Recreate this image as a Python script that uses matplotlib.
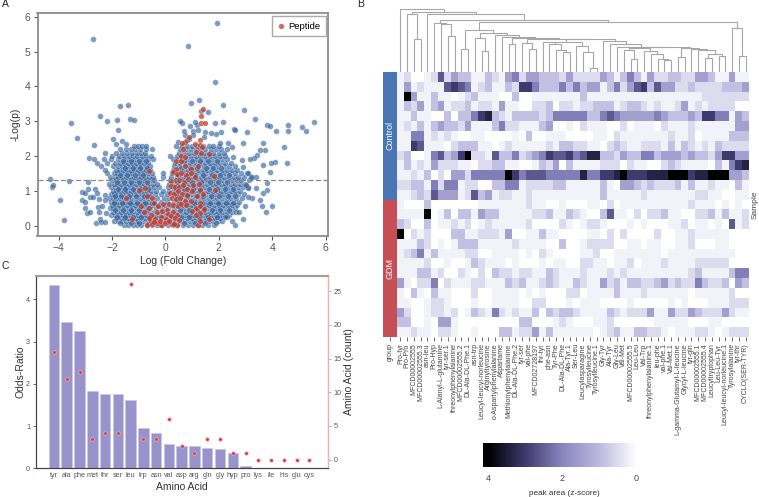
import matplotlib
matplotlib.use('Agg')
import matplotlib.pyplot as plt
from matplotlib.colors import LinearSegmentedColormap
from matplotlib.patches import Rectangle
import numpy as np

plt.rcParams['font.family'] = ['Liberation Sans', 'DejaVu Sans']

W, H = 759, 497

# panel A: points
# (the dense part is read band by band: one y, many x)
blue_y = [0.03, 0.12, 0.21, 0.31, 0.4, 0.5, 0.6, 0.69, 0.79, 0.9, 1.0, 1.1, 1.2, 1.3, 1.4, 1.5, 1.6, 1.7, 1.8, 1.9, 2.0, 2.1, 2.2, 2.3]
blue_x = [
    [-1.55, -1.4, -1.22, -1.05, -0.93, -0.7, -0.52, -0.31, -0.12, 0.08, 0.27, 0.45, 0.66, 0.84, 1.03, 1.21, 1.38, 1.6, 1.82],
    [-1.92, -1.78, -1.62, -1.47, -1.33, -1.15, -1.02, -0.85, -0.66, -0.44, -0.25, -0.03, 0.15, 0.36, 0.55, 0.73, 0.93, 1.08, 1.27, 1.44, 1.63, 1.79, 1.98, 2.12],
    [-1.85, -1.68, -1.55, -1.41, -1.24, -1.1, -0.94, -0.77, -0.58, -0.37, -0.18, 0.02, 0.25, 0.48, 0.63, 0.81, 0.98, 1.16, 1.31, 1.52, 1.7, 1.86, 2.03],
    [-2.02, -1.9, -1.75, -1.6, -1.46, -1.31, -1.17, -1.02, -0.88, -0.71, -0.54, -0.3, -0.08, 0.12, 0.33, 0.52, 0.72, 0.88, 1.05, 1.22, 1.4, 1.57, 1.72, 1.9, 2.05, 2.22, 2.38],
    [-1.95, -1.83, -1.66, -1.51, -1.38, -1.24, -1.08, -0.93, -0.79, -0.63, -0.44, -0.2, 0.01, 0.24, 0.44, 0.61, 0.79, 0.97, 1.13, 1.31, 1.48, 1.66, 1.81, 1.97, 2.13, 2.31, 2.49],
    [-2.08, -1.96, -1.8, -1.67, -1.52, -1.35, -1.21, -1.06, -0.9, -0.73, -0.58, -0.36, -0.13, 0.08, 0.33, 0.53, 0.7, 0.87, 1.04, 1.23, 1.39, 1.56, 1.74, 1.9, 2.06, 2.23, 2.42, 2.62],
    [-2.0, -1.87, -1.73, -1.58, -1.44, -1.29, -1.13, -0.98, -0.83, -0.68, -0.49, -0.27, -0.03, 0.2, 0.42, 0.62, 0.8, 0.95, 1.15, 1.32, 1.5, 1.64, 1.82, 2.0, 2.15, 2.33, 2.5, 2.7],
    [-2.05, -1.92, -1.78, -1.64, -1.5, -1.36, -1.2, -1.05, -0.91, -0.75, -0.6, -0.41, -0.18, 0.05, 0.31, 0.5, 0.68, 0.86, 1.04, 1.2, 1.38, 1.56, 1.71, 1.88, 2.06, 2.22, 2.4, 2.58, 2.77],
    [-2.12, -1.97, -1.84, -1.69, -1.55, -1.41, -1.27, -1.11, -0.96, -0.82, -0.66, -0.5, -0.3, -0.07, 0.15, 0.4, 0.58, 0.77, 0.93, 1.1, 1.29, 1.46, 1.62, 1.8, 1.95, 2.13, 2.31, 2.47, 2.66, 2.86],
    [-2.04, -1.91, -1.76, -1.62, -1.47, -1.33, -1.18, -1.03, -0.88, -0.73, -0.57, -0.39, -0.16, 0.06, 0.28, 0.48, 0.66, 0.83, 1.01, 1.19, 1.35, 1.53, 1.7, 1.87, 2.04, 2.2, 2.38, 2.56, 2.73, 2.94],
    [-1.98, -1.85, -1.71, -1.56, -1.42, -1.28, -1.14, -0.98, -0.84, -0.69, -0.53, -0.36, -0.1, 0.13, 0.34, 0.55, 0.73, 0.91, 1.08, 1.26, 1.42, 1.6, 1.77, 1.93, 2.1, 2.28, 2.46, 2.62, 2.8],
    [-2.03, -1.89, -1.75, -1.6, -1.46, -1.32, -1.16, -1.02, -0.87, -0.71, -0.56, -0.42, -0.24, 0.1, 0.28, 0.46, 0.65, 0.82, 0.99, 1.16, 1.33, 1.5, 1.68, 1.84, 2.02, 2.19, 2.36, 2.53, 2.71, 2.9, 3.08],
    [-2.1, -1.94, -1.8, -1.67, -1.52, -1.38, -1.24, -1.09, -0.94, -0.79, -0.64, -0.48, -0.31, 0.15, 0.34, 0.51, 0.7, 0.88, 1.05, 1.22, 1.38, 1.56, 1.73, 1.91, 2.07, 2.25, 2.44, 2.6, 2.78, 2.97],
    [-2.0, -1.86, -1.72, -1.58, -1.43, -1.29, -1.13, -0.98, -0.84, -0.7, -0.55, -0.42, 0.18, 0.37, 0.56, 0.75, 0.92, 1.09, 1.27, 1.44, 1.61, 1.78, 1.96, 2.13, 2.31, 2.5, 2.68, 2.85, 3.14],
    [-2.06, -1.9, -1.77, -1.63, -1.49, -1.34, -1.19, -1.04, -0.9, -0.75, -0.6, -0.47, -0.1, 0.22, 0.42, 0.61, 0.79, 0.96, 1.14, 1.32, 1.49, 1.67, 1.84, 2.02, 2.2, 2.37, 2.56, 2.72, 2.94, 3.25],
    [-2.18, -1.94, -1.81, -1.67, -1.52, -1.38, -1.24, -1.08, -0.94, -0.8, -0.64, -0.5, -0.08, 0.25, 0.44, 0.64, 0.83, 1.0, 1.19, 1.36, 1.53, 1.71, 1.89, 2.08, 2.25, 2.42, 2.6, 2.82, 3.05],
    [-2.25, -1.86, -1.72, -1.58, -1.44, -1.3, -1.16, -1.01, -0.87, -0.73, -0.59, 0.28, 0.47, 0.68, 0.86, 1.04, 1.22, 1.4, 1.57, 1.74, 1.92, 2.12, 2.3, 2.5, 2.7],
    [-2.4, -1.98, -1.78, -1.63, -1.48, -1.33, -1.18, -1.04, -0.9, -0.74, -0.56, 0.31, 0.52, 0.72, 0.9, 1.09, 1.26, 1.44, 1.62, 1.8, 1.98, 2.18, 2.38, 2.62],
    [-2.55, -2.2, -1.87, -1.7, -1.55, -1.4, -1.25, -1.1, -0.95, -0.8, -0.64, 0.35, 0.56, 0.74, 0.94, 1.13, 1.31, 1.49, 1.67, 1.85, 2.04, 2.24, 2.45],
    [-2.3, -2.05, -1.78, -1.6, -1.45, -1.3, -1.14, -0.99, -0.83, -0.66, -0.48, 0.3, 0.46, 0.64, 0.84, 1.02, 1.2, 1.38, 1.56, 1.73, 1.92, 2.12, 2.32],
    [-2.0, -1.72, -1.55, -1.38, -1.22, -1.05, -0.88, -0.71, -0.54, 0.18, 0.42, 0.6, 0.78, 0.96, 1.14, 1.31, 1.48, 1.68, 1.86, 2.05, 2.24],
    [-1.85, -1.62, -1.42, -1.25, -1.08, -0.92, -0.76, 0.5, 0.71, 0.9, 1.07, 1.25, 1.43, 1.62, 1.8, 2.0, 2.18],
    [-1.7, -1.48, -1.3, -1.12, -0.94, -0.74, -0.5, 0.56, 0.78, 0.97, 1.14, 1.3, 1.5, 1.7, 1.88, 2.1, 2.3],
    [-1.18, -1.02, -0.88, -0.72, 0.4, 0.62, 0.82, 1.0, 1.2, 1.42, 1.62, 1.8, 2.0],
]
# second pass between the bands, where the cloud is darkest
blue2_y = [0.07, 0.26, 0.45, 0.65, 0.85, 1.05, 1.25, 1.45, 1.65, 1.85]
blue2_x = [
    [-1.7, -1.28, -0.98, -0.62, 0.32, 0.71, 1.12, 1.5, 1.9],
    [-1.8, -1.5, -1.2, -0.9, -0.48, 0.6, 0.9, 1.25, 1.6, 1.95, 2.3],
    [-1.88, -1.57, -1.27, -0.99, -0.68, 0.53, 0.87, 1.18, 1.44, 1.75, 2.04, 2.4],
    [-1.93, -1.62, -1.33, -1.05, -0.77, -0.52, 0.5, 0.76, 1.07, 1.36, 1.68, 1.97, 2.27, 2.52],
    [-1.9, -1.65, -1.37, -1.09, -0.8, -0.6, 0.45, 0.8, 1.13, 1.41, 1.72, 2.01, 2.33, 2.6],
    [-1.79, -1.5, -1.22, -0.93, -0.65, 0.39, 0.7, 1.03, 1.31, 1.64, 1.95, 2.24, 2.55],
    [-1.83, -1.55, -1.27, -0.99, -0.7, 0.42, 0.75, 1.0, 1.35, 1.66, 1.98, 2.3],
    [-1.7, -1.42, -1.15, -0.85, 0.48, 0.83, 1.12, 1.42, 1.74, 2.05, 2.4],
    [-1.5, -1.22, -0.95, -0.68, 0.6, 0.92, 1.2, 1.52, 1.8, 2.1],
    [-1.6, -1.3, -1.0, -0.72, 0.68, 1.0, 1.28, 1.6, 1.92],
]
blue_extra_x = [-2.72, 0.85, 1.94, 1.85, 1.25, 0.96, 2.15, -1.71, -1.39, 2.95, -2.44, -2.18, -1.82, -1.31, -1.19, -3.52, -3.3, -1.76, 3.37, 3.8, 3.93, 4.16, 4.58, 4.61, 5.11, 5.27, 5.58, 4.45, 4.54, 4.11, 3.96, 3.9, 3.65, 3.64, 3.74, 3.55, 3.42, 3.33, 3.04, 2.89, 2.56, 2.62, 2.14, 2.1, 1.89, 1.69, 1.85, 1.6, -4.32, -4.26, -4.2, -3.6, -3.96, -3.79, -2.9, -2.85, -2.69, -2.66, -2.26, -1.97, -1.84, -1.64, -1.49, -3.11, -3.0, -2.89, -3.11, -3.0, -3.0, -2.94, -2.81, -2.84, -2.71, -2.64, -2.56, -2.49, -2.51, -2.5, -2.46, -2.59, -2.4, -2.25, -2.36, -2.21, -2.26, -2.26, 2.6, 2.51, 2.23, 2.92, 2.66, 2.76, 2.98, 3.24, 3.11, 3.54, 3.6, 3.77, 3.98, 3.79, 3.66, 3.41, 3.11, 3.02, 3.79, 3.41, 3.22, 3.11, 2.92, 3.18, 2.86, 2.55, 2.5, 2.35, 2.04, 0.72, 0.9, 1.05, 1.2, 0.62, 0.55, 0.92, 1.1, 1.32, 1.5, 0.8, 1.02, 1.22, 1.44, 0.48, 0.68]
blue_extra_y = [5.35, 5.16, 5.81, 4.14, 3.61, 3.52, 3.47, 3.44, 3.46, 3.32, 3.16, 3.01, 3.03, 3.06, 3.02, 2.95, 2.53, 2.74, 3.05, 2.9, 2.86, 2.72, 2.89, 2.73, 2.84, 2.73, 2.99, 2.27, 1.79, 1.82, 1.79, 1.55, 1.75, 2.37, 2.16, 2.18, 2.04, 1.93, 2.7, 2.37, 2.77, 2.74, 2.97, 2.7, 2.62, 2.65, 2.96, 3.25, 1.34, 1.12, 1.18, 1.28, 0.73, 0.16, 1.26, 1.93, 1.92, 2.31, 2.1, 2.48, 2.34, 2.44, 2.35, 0.96, 0.93, 1.04, 0.74, 0.69, 0.5, 0.35, 0.38, 0.83, 0.83, 1.04, 0.95, 0.76, 0.53, 0.4, 0.19, 0.07, 0.11, 0.11, 0.55, 0.35, 0.88, 0.74, 0.02, 0.14, 0.24, 0.19, 0.38, 0.38, 0.55, 0.78, 0.83, 0.74, 0.55, 0.4, 0.55, 1.02, 0.95, 1.07, 1.07, 1.17, 1.21, 1.41, 1.41, 1.5, 1.69, 1.9, 1.88, 1.98, 2.25, 2.38, 2.38, 2.6, 2.5, 2.72, 2.88, 2.95, 3.0, 2.85, 2.98, 3.3, 2.7, 2.45, 2.6, 2.75, 2.55, 2.4, 2.72]
red_x = [1.41, 1.34, 1.35, 1.5, 0.89, 1.31, 0.73, 0.64, 1.1, 1.29, 1.37, 0.66, 1.16, 1.32, 1.64, 0.57, 0.73, 0.41, 0.57, 1.21, -0.62, 0.41, 0.75, 0.97, 1.81, 1.85, -1.46, -1.24, 1.22,
         0.3, 0.45, 0.6, 0.78, 0.95, 1.1, 0.2, 0.38, 0.52, 0.68, 0.85, 1.03, 1.25, 0.22, 0.35, 0.5, 0.66, 0.82, 1.0, 1.3, 0.18, 0.33, 0.48, 0.62, 0.8, 1.2, 1.4, 0.25, 0.4, 0.55, 0.72, 0.95, 1.28, 0.12, 0.3, 0.46, 0.6, 0.78, 1.15, 1.3,
         -0.78, -0.92, -0.8, -0.62, -1.0, -0.7, -0.5, -0.42, -0.55, -0.28, -0.1, 0.05, -0.3, -0.12, 0.1, 0.28, 0.45, -0.55, -0.38, -0.18, 0.02, 0.2, 0.36, 0.52, -0.7, -0.5, -0.3, -0.15, 0.08, 0.25, 0.42, -0.6, -0.42, -0.2, -0.02, 0.14, 0.32, 1.0, 1.28, 1.45, 1.65, 1.15, 1.3]
red_y = [3.35, 3.15, 2.94, 2.96, 2.55, 2.46, 2.41, 2.36, 2.34, 2.32, 2.25, 2.2, 2.12, 2.1, 2.07, 2.01, 1.98, 1.86, 1.86, 1.72, 1.56, 1.62, 1.72, 1.63, 1.42, 1.01, 0.79, 0.18, 0.01,
         1.55, 1.48, 1.5, 1.45, 1.52, 1.4, 1.28, 1.3, 1.32, 1.25, 1.33, 1.18, 1.2, 1.15, 1.1, 1.12, 1.18, 1.05, 1.0, 1.02, 0.95, 0.92, 0.98, 0.9, 0.88, 0.86, 0.9, 0.78, 0.75, 0.8, 0.72, 0.7, 0.65, 0.62, 0.6, 0.55, 0.62, 0.58, 0.5, 0.35,
         1.08, 0.55, 0.4, 0.5, 1.02, 0.85, 0.78, 0.65, 0.3, 0.55, 0.62, 0.45, 0.38, 0.42, 0.32, 0.4, 0.3, 0.12, 0.18, 0.25, 0.2, 0.28, 0.22, 0.15, 0.02, 0.05, 0.08, 0.03, 0.1, 0.05, 0.02, 0.22, 0.1, 0.14, 0.06, 0.14, 0.04, 0.42, 0.55, 0.48, 0.18, 0.3, 0.12]

# panel C
amino = ['tyr', 'ala', 'phe', 'met', 'thr', 'ser', 'leu', 'trp', 'asn', 'val', 'asp', 'arg', 'gln', 'gly', 'hyp', 'pro', 'lys', 'ile', 'his', 'glu', 'cys']
odds = [4.34, 3.47, 3.24, 1.82, 1.77, 1.77, 1.62, 0.95, 0.84, 0.58, 0.52, 0.52, 0.49, 0.46, 0.36, 0.05, 0, 0, 0, 0, 0]
counts = [16, 12, 13, 3, 4, 4, 26, 3, 3, 6, 2, 1, 3, 3, 1, 1, 0, 0, 0, 0, 0]

# panel B, one digit per cell, the digit is a shade (see niveis below)
peptides = ['Pro-tyr', 'Pro-Pro', 'MFCD00002555', 'MFCD00002555.3', 'asn-leu', 'Pro-Hyp', 'L-Alanyl-L-glutamine', 'tyr-ser.1',
            'threonylphenylalanine', 'MFCD00002555.2', 'DL-Ala-DL-Phe.1', 'asn-trp', 'Leucyl-leucyl-norleucine', 'Arginyltyrosine',
            'o-Aspartylphenylalanine', 'Aspartame', 'Methionylphenylalanine', 'DL-Ala-DL-Phe.2', 'tyr-ser', 'val-phe', 'MFCD02728197',
            'thr-tyr', 'phe-asn', 'Tyr-Phe', 'DL-Ala-DL-Phe', 'Ala-Tyr.1', 'Ser-Leu', 'Leucylasparagine', 'Tyrosylleucine',
            'Tyrosylleucine.1', 'Gly-Tyr', 'Ala-Tyr', 'Gly-Leu', 'Val-Met', 'MFCD00002555.5', 'Leu-Leu', 'Val-Trp',
            'threonylphenylalanine.1', 'leu-phe', 'val-phe.1', 'Val-Met.1', 'L-gamma-Glutamyl-L-leucine', 'Glycyl-L-leucine', 'tyr-gln',
            'MFCD00002555.1', 'MFCD00002555.4', 'Leucyltryptophan', 'Leu-Leu-Tyr', 'Leucyl-leucyl-norleucine.1', 'Tyrosylalanine',
            'tyr-thr', 'CYCLO(SER-TYR)']
cells_left = [
    '12001262433113214524433324', '14121116765123113277533353', '19411311012311100300111111', '13241341223122141100223022',
    '11311003033578321333323555', '12131343324111352211134001', '11551212100110000103001110', '11761110233311012111112133',
    '23001563479221633523457667', '13121422211022331100132403', '11213020442555559756665555', '22331525512200335512222331',
    '11232644412634122112111111',
    '10003000000011111112110010', '11119013033143311111223113', '32003011212012111112000021', '90212000331122214001131100',
    '11132010133311111211110030', '12351311112200111101021000', '11112001001321110100010110', '11133120021020322122113211',
    '41022502111221113231123211', '10310311000200111101010002', '11001221000100111100220001', '42001221201321521211303233',
    '33001044100000000033000121', '11211022100100033122413111',
]
cells_right = [
    '22224313531422332244311411', '53441352467364422322223334', '13111111111111111112222222', '12233312332121124121222200',
    '55335654444454333437755143', '02111002011102111211111144', '00011021111111211201111333', '22110232112221313212132222',
    '56883324335534443433247744', '11112220211002321111031578', '58557789777888999788999443', '11113104432322231311211031',
    '11113111112111111122110011',
    '00110201111111111211101010', '21003611020223110022313112', '01221000101000112011010612', '00110202000020011211111000',
    '01222200110110011200011000', '01120011111110111111111100', '02211011201112111122222000', '12111212111111111231111355',
    '32114231332234232253223043', '20111131112111111011111200', '01110000100000101000111222', '21111321222411422432224211',
    '00011200000011111000110000', '11101231133221011122101222',
]
niveis = [0, 0.2, 0.5, 0.9, 1.5, 2.1, 2.6, 3.0, 3.4, 4.0]
groups = ['Control'] * 13 + ['GDM'] * 14

# dendrogram, (height, left, right), a plain int is a column
n_a = (67, 23, (59, 24, 25))
n_b = (89, 21, (83, 22, n_a))
n_c = (77, 26, (59, 27, (11, 28, 29)))
n_d = (90, n_b, n_c)
n_e = (66, 33, (38, 34, 35))
n_f = (64, 36, (53, 37, (40, 38, (36, 39, 40))))
n_g = (70, 43, (66, 44, (53, (41, 45, 46), (48, 47, 48))))
n_h = (92, 30, (83, 31, (76, 32, (74, (72, n_e, n_f), (72, (46, 41, 42), n_g)))))
n_i = (102, (83, 16, 17), (100, (86, 18, (70, 19, 20)), (98, n_d, n_h)))
n_j = (118, (101, 11, (62, 12, 13)), (110, 14, (104, 15, n_i)))
n_k = (150, (125, (68, 9, 10), n_j), (133, 49, (49, 50, 51)))
tree = (190, 0, (180, (173, 1, (98, 2, 3)), (175, 4, (156, (146, 5, (143, 6, (108, 7, 8))), n_k))))


def eixo(esq, topo, dir, baixo):
    # axes from pixel edges
    return fig.add_axes([esq / W, 1 - baixo / H, (dir - esq) / W, (baixo - topo) / H])


def desenha(no, ax):
    if isinstance(no, int):
        return no + 0.5, 0
    x1, h1 = desenha(no[1], ax)
    x2, h2 = desenha(no[2], ax)
    ax.plot([x1, x1, x2, x2], [h1, no[0], no[0], h2], color='#a6a6a6', lw=0.8, solid_joinstyle='miter')
    return (x1 + x2) / 2, no[0]


fig = plt.figure(figsize=(W / 100, H / 100), dpi=100)
cinza = '#555555'

# A
ax = eixo(37.5, 13, 328, 236)
bx = []
by = []
for yy, xs in zip(blue_y + blue2_y, blue_x + blue2_x):
    bx += xs
    by += [yy] * len(xs)
bx += blue_extra_x
by += blue_extra_y
ax.scatter(bx, by, s=17, color='#2f5f9c', alpha=0.62, edgecolor='white', linewidth=0.25)
ax.scatter(red_x, red_y, s=16, color='#c0392b', alpha=0.75, edgecolor='white', linewidth=0.25, label='Peptide')
ax.axhline(1.3, color='#888888', lw=0.9, ls=(0, (4, 2)))
ax.set_xlim(-4.79, 6.09)
ax.set_ylim(-0.3, 6.11)
ax.set_xticks([-4, -2, 0, 2, 4, 6])
ax.set_xticklabels(['\u22124', '\u22122', '0', '2', '4', '6'])
ax.tick_params(labelsize=7.5, colors=cinza, length=3, width=0.8, pad=2)
ax.set_xlabel('Log (Fold Change)', fontsize=7.5, color='#333333', labelpad=2)
ax.set_ylabel('-Log(p)', fontsize=7.5, color='#333333', labelpad=3)
for s in ax.spines.values():
    s.set_color('#8c8c8c')
    s.set_linewidth(1.3)
leg = ax.legend(loc='upper right', fontsize=6.8, fancybox=False, edgecolor='#aaaaaa', framealpha=1,
                borderpad=0.55, handlelength=0.7, handletextpad=0.5, bbox_to_anchor=(0.993, 0.985), borderaxespad=0)

# C
ax = eixo(35.7, 275.7, 328, 468.3)
pos = np.arange(len(amino))
ax.bar(pos, odds, width=0.82, color='#9894cb', edgecolor='#c9c6e6', linewidth=0.6)
ax.set_xlim(-1.43, 21.46)
ax.set_ylim(0, 4.56)
ax.set_xticks(pos)
ax.set_xticklabels(amino)
ax.set_yticks([0, 1, 2, 3, 4])
ax.tick_params(axis='x', labelsize=5.2, colors=cinza, length=0, pad=2.5)
ax.tick_params(axis='y', labelsize=5.2, labelcolor=cinza, color='#5a50c8', length=2, width=0.7, pad=2)
ax.set_xlabel('Amino Acid', fontsize=7.5, color='#333333', labelpad=2.5)
ax.set_ylabel('Odds-Ratio', fontsize=7.5, color='#333333', labelpad=0.5)
ax2 = ax.twinx()
ax2.scatter(pos, counts, s=7, color='#d9404a', edgecolor='#f3c4c6', linewidth=0.4, zorder=3)
ax2.set_ylim(-1.28, 27.3)
ax2.set_yticks([0, 5, 10, 15, 20, 25])
ax2.tick_params(axis='y', labelsize=5.2, labelcolor=cinza, color='#e8a0a6', length=2, width=0.7, pad=2)
ax2.set_ylabel('Amino Acid (count)', fontsize=7.5, color='#333333', labelpad=1.5)
for a in (ax, ax2):
    a.spines['top'].set_color('#a0a0a0')
    a.spines['top'].set_linewidth(1.5)
    a.spines['left'].set_color('#444444')
    a.spines['left'].set_linewidth(0.8)
    a.spines['bottom'].set_color('#444444')
    a.spines['bottom'].set_linewidth(0.8)
    a.spines['right'].set_color('#eab0b5')
    a.spines['right'].set_linewidth(0.9)

# B
cmap = LinearSegmentedColormap.from_list('pico', ['#ffffff', '#bcbae0', '#8a86c0', '#3f3b6e', '#000000'])
matriz = np.array([[niveis[int(c)] for c in e + d] for e, d in zip(cells_left, cells_right)])

ax = eixo(397, 72, 749, 337)
ax.pcolormesh(matriz, cmap=cmap, vmin=0, vmax=4)
ax.invert_yaxis()
ax.set_xticks(np.arange(len(peptides)) + 0.5)
ax.set_xticklabels(peptides, rotation=90, fontsize=5.0, color='#444444')
ax.set_yticks([])
ax.tick_params(axis='x', length=3, width=0.6, color='#555555', pad=1.5)
for s in ax.spines.values():
    s.set_visible(False)
fig.text(755 / W, 1 - 205 / H, 'Sample', rotation=90, fontsize=6, color='#444444', ha='center', va='center')

ax = eixo(383.3, 72, 397, 337)
cores = {'Control': '#4a75b4', 'GDM': '#c64e55'}
for i, g in enumerate(groups):
    ax.add_patch(Rectangle((0, i), 1, 1, color=cores[g], lw=0))
ax.set_xlim(0, 1)
ax.set_ylim(len(groups), 0)
ax.text(0.5, groups.count('Control') / 2, 'Control', color='white', rotation=90, fontsize=6.5, ha='center', va='center')
ax.text(0.5, groups.count('Control') + groups.count('GDM') / 2, 'GDM', color='white', rotation=90, fontsize=6.5, ha='center', va='center')
ax.set_yticks([])
ax.set_xticks([0.5])
ax.set_xticklabels(['group'], rotation=90, fontsize=5.0, color='#444444')
ax.tick_params(axis='x', length=3, width=0.6, color='#555555', pad=1.5)
for s in ax.spines.values():
    s.set_visible(False)

ax = eixo(397, 7, 749, 72)
desenha(tree, ax)
ax.set_xlim(0, len(peptides))
ax.set_ylim(0, 195)
ax.axis('off')

# colour bar
ax = eixo(482.7, 443, 647, 466.7)
gradiente = np.linspace(4.14, -0.3, 256).reshape(1, -1)
ax.imshow(gradiente, cmap=cmap, vmin=0, vmax=4, aspect='auto', extent=[4.14, -0.3, 0, 1])
ax.set_yticks([])
ax.set_xticks([4, 2, 0])
ax.set_xticklabels(['4', '2', '0'])
ax.tick_params(axis='x', length=0, labelsize=6.5, colors='#444444', pad=5)
ax.set_xlabel('peak area (z-score)', fontsize=5.9, color='#333333', labelpad=5.5)
for s in ax.spines.values():
    s.set_visible(False)

fig.text(2 / W, 1 - 4 / H, 'A', fontsize=7.5, color='#222222', va='center')
fig.text(357 / W, 1 - 4 / H, 'B', fontsize=7.5, color='#222222', va='center')
fig.text(2 / W, 1 - 266 / H, 'C', fontsize=7.5, color='#222222', va='center')

fig.savefig('out.png', dpi=100)
